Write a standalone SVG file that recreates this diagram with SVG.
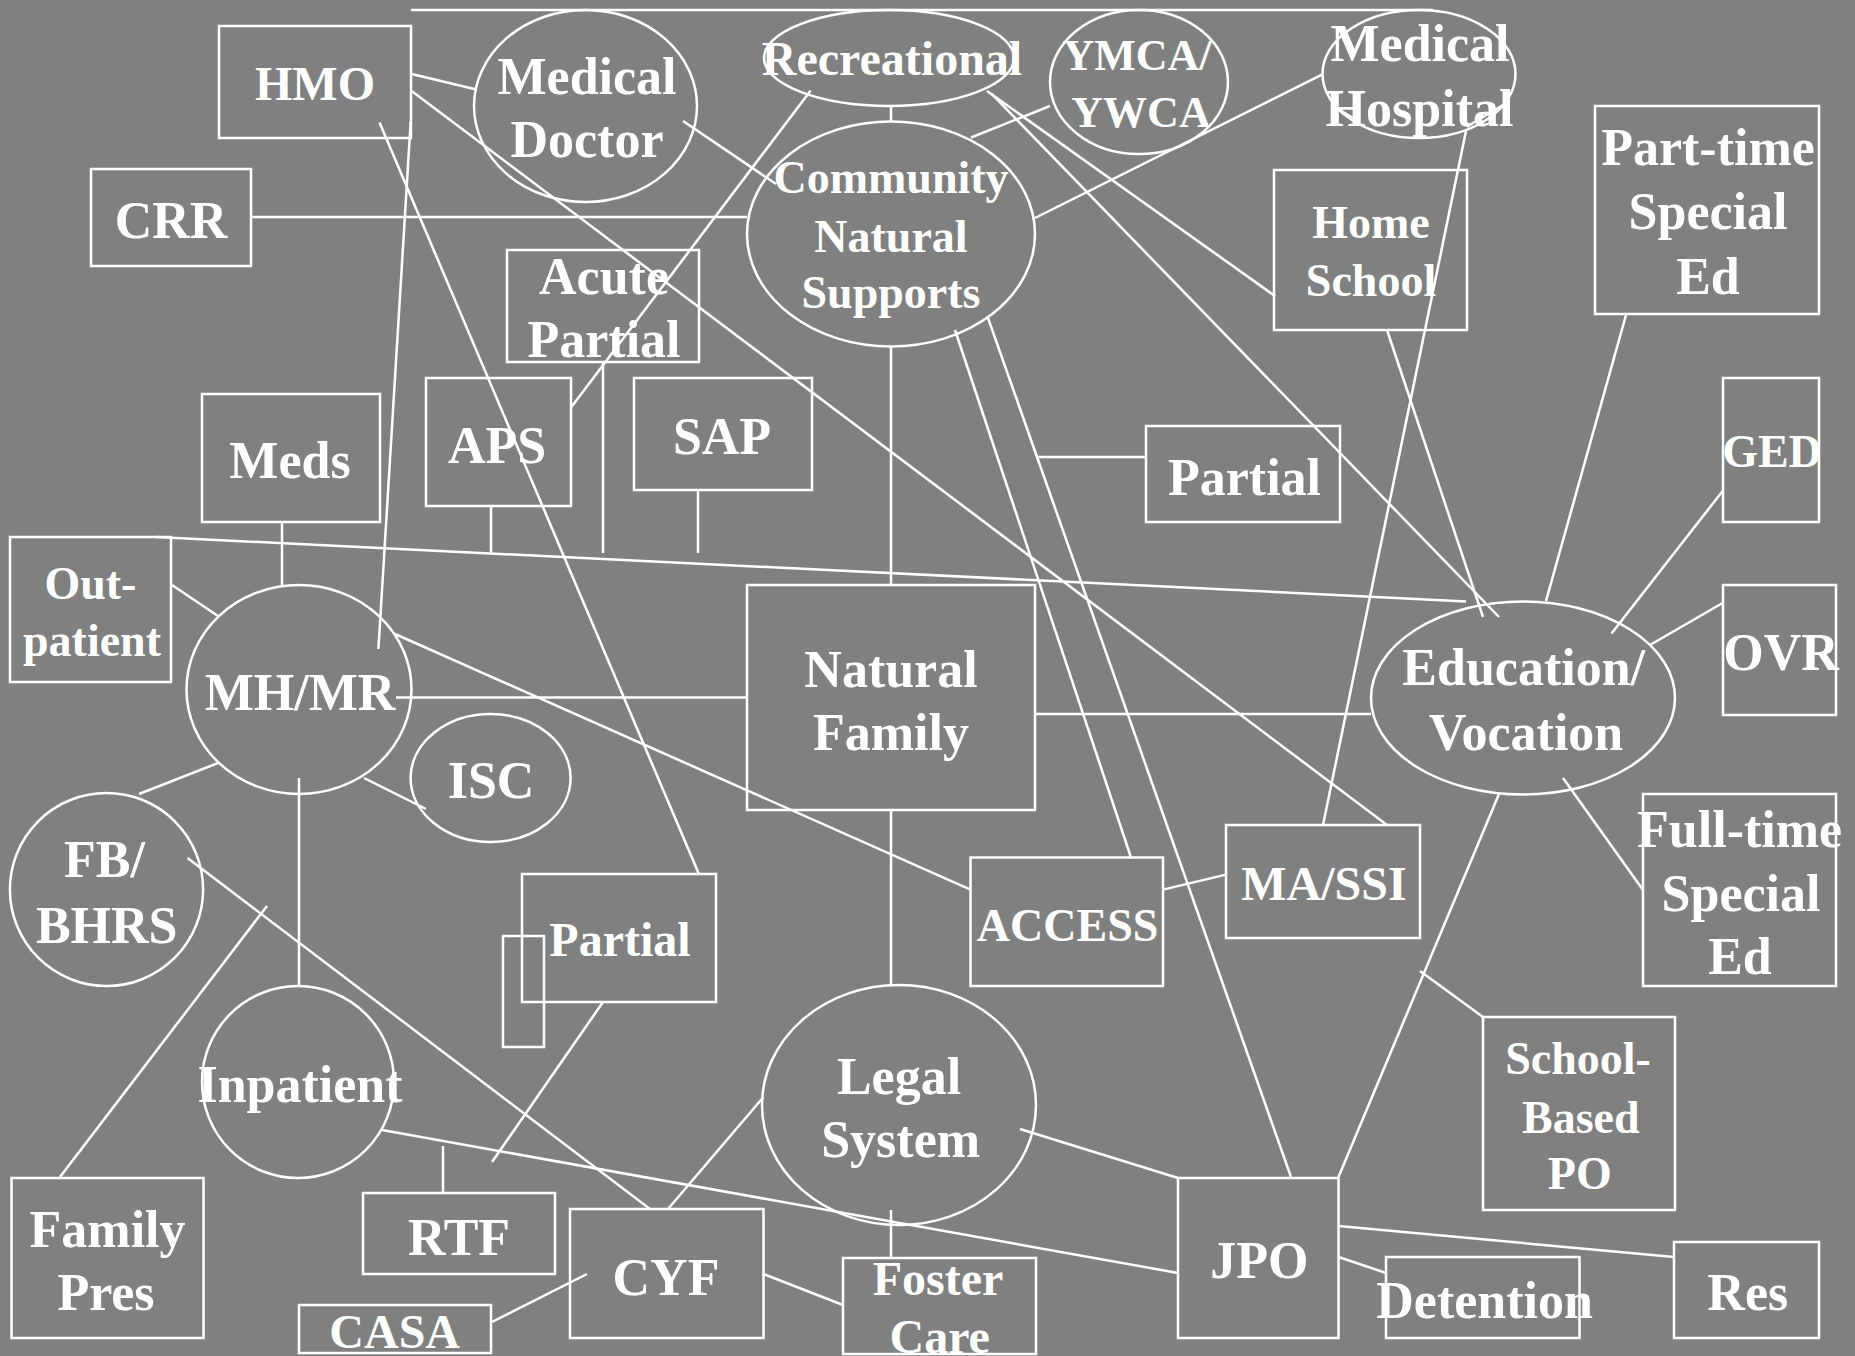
<svg xmlns="http://www.w3.org/2000/svg" width="1855" height="1356" viewBox="0 0 1855 1356">
  <style>
    .bg { fill: #808080; }
    .n rect, .n ellipse { fill: none; stroke: #ffffff; stroke-width: 2.5; }
    .n text { font-family: "Liberation Serif", "Times New Roman", serif; font-weight: bold; fill: #ffffff; text-anchor: middle; }
    .s44 { font-size: 44px; }
    .s46 { font-size: 46px; }
    .s48 { font-size: 48px; }
    .s52 { font-size: 52px; }
    #connectors line { stroke: #ffffff; stroke-width: 2.5; }
  </style>
  <rect class="bg" x="0" y="0" width="1855" height="1356"/>

  <g id="connectors">
    <line x1="411" y1="10" x2="1433" y2="10"/>
    <line x1="411.6" y1="74" x2="475.4" y2="89.3"/>
    <line x1="411.6" y1="91" x2="1387" y2="825"/>
    <line x1="379.5" y1="122.5" x2="698.7" y2="873.6"/>
    <line x1="410.7" y1="121.4" x2="378.4" y2="649"/>
    <line x1="251" y1="217" x2="747" y2="217"/>
    <line x1="683" y1="121" x2="776" y2="184"/>
    <line x1="810.7" y1="90.4" x2="571.4" y2="407"/>
    <line x1="891" y1="106" x2="891" y2="121"/>
    <line x1="987" y1="91" x2="1275" y2="296"/>
    <line x1="991.5" y1="93.6" x2="1499" y2="617"/>
    <line x1="1050" y1="106" x2="971" y2="137.5"/>
    <line x1="1035" y1="218" x2="1322.5" y2="74.3"/>
    <line x1="1466" y1="131" x2="1323" y2="825"/>
    <line x1="1466.7" y1="126.7" x2="1503" y2="105"/>
    <line x1="1335" y1="107" x2="1353" y2="118"/>
    <line x1="1036" y1="457" x2="1146" y2="457"/>
    <line x1="955" y1="330" x2="1131" y2="857.5"/>
    <line x1="988" y1="318" x2="1291" y2="1177"/>
    <line x1="891" y1="346" x2="891" y2="585"/>
    <line x1="698" y1="490" x2="698" y2="553"/>
    <line x1="491" y1="506" x2="491" y2="553"/>
    <line x1="603" y1="362" x2="603" y2="553"/>
    <line x1="282" y1="522" x2="282" y2="585"/>
    <line x1="156" y1="537" x2="1466" y2="601.4"/>
    <line x1="172" y1="585" x2="218" y2="616"/>
    <line x1="396" y1="697.5" x2="747" y2="697.5"/>
    <line x1="395" y1="634" x2="970.5" y2="889.6"/>
    <line x1="364" y1="778" x2="426" y2="809"/>
    <line x1="218" y1="763" x2="139" y2="794"/>
    <line x1="299" y1="778" x2="299" y2="986"/>
    <line x1="187.5" y1="858" x2="650" y2="1209"/>
    <line x1="60" y1="1177" x2="267" y2="906"/>
    <line x1="603" y1="1002" x2="492" y2="1162"/>
    <line x1="443" y1="1146" x2="443" y2="1193"/>
    <line x1="382" y1="1130" x2="1178" y2="1273"/>
    <line x1="668" y1="1209" x2="763.5" y2="1097"/>
    <line x1="492" y1="1322" x2="587" y2="1274"/>
    <line x1="763.5" y1="1274" x2="843" y2="1305"/>
    <line x1="891" y1="1210" x2="891" y2="1257"/>
    <line x1="1020" y1="1129" x2="1178" y2="1178"/>
    <line x1="1338.5" y1="1226" x2="1674" y2="1257"/>
    <line x1="1338.5" y1="1257" x2="1386" y2="1273"/>
    <line x1="1338.5" y1="1177" x2="1499" y2="794"/>
    <line x1="1483" y1="1017" x2="1420" y2="971"/>
    <line x1="1563" y1="778" x2="1643" y2="890"/>
    <line x1="1650" y1="645" x2="1722.6" y2="603"/>
    <line x1="1611.5" y1="633.6" x2="1722.6" y2="491"/>
    <line x1="1546" y1="601" x2="1626" y2="315"/>
    <line x1="1387" y1="330" x2="1483" y2="617"/>
    <line x1="1035" y1="714" x2="1371" y2="714"/>
    <line x1="891" y1="810" x2="891" y2="985"/>
    <line x1="1163" y1="889.6" x2="1226" y2="874.6"/>
  </g>

  <g id="hmo" class="n">
    <rect x="219" y="26" width="192" height="112"/>
    <text class="s48" x="315" y="100">HMO</text>
  </g>
  <g id="medical-doctor" class="n">
    <ellipse cx="585.5" cy="106" rx="111.5" ry="96"/>
    <text class="s52" x="587" y="93.6">Medical</text>
    <text class="s52" x="587" y="157">Doctor</text>
  </g>
  <g id="crr" class="n">
    <rect x="91" y="169" width="160" height="97"/>
    <text class="s52" x="171" y="237.5">CRR</text>
  </g>
  <g id="acute-partial" class="n">
    <rect x="507" y="250" width="192" height="112"/>
    <text class="s52" x="604" y="293.6">Acute</text>
    <text class="s52" x="604" y="357">Partial</text>
  </g>
  <g id="meds" class="n">
    <rect x="202" y="394" width="178" height="128"/>
    <text class="s52" x="290" y="478">Meds</text>
  </g>
  <g id="aps" class="n">
    <rect x="426" y="378" width="145" height="128"/>
    <text class="s52" x="497" y="462.5">APS</text>
  </g>
  <g id="sap" class="n">
    <rect x="634" y="378" width="178" height="112"/>
    <text class="s52" x="722" y="454">SAP</text>
  </g>
  <g id="community-natural-supports" class="n">
    <ellipse cx="891" cy="234" rx="144" ry="112.5"/>
    <text class="s46" x="891" y="193">Community</text>
    <text class="s46" x="891" y="252">Natural</text>
    <text class="s46" x="891" y="308">Supports</text>
  </g>
  <g id="recreational" class="n">
    <ellipse cx="889" cy="58" rx="125" ry="48"/>
    <text class="s48" x="892" y="75">Recreational</text>
  </g>
  <g id="ymca-ywca" class="n">
    <ellipse cx="1139" cy="82" rx="89" ry="72"/>
    <text class="s44" x="1137" y="69.6">YMCA/</text>
    <text class="s44" x="1141" y="126.8">YWCA</text>
  </g>
  <g id="medical-hospital" class="n">
    <ellipse cx="1419" cy="74" rx="96.5" ry="64"/>
    <text class="s52" x="1420" y="61.4">Medical</text>
    <text class="s52" x="1419.5" y="125.7">Hospital</text>
  </g>
  <g id="home-school" class="n">
    <rect x="1274" y="170" width="193" height="160"/>
    <text class="s46" x="1371" y="237.5">Home</text>
    <text class="s46" x="1371" y="296.4">School</text>
  </g>
  <g id="part-time-special-ed" class="n">
    <rect x="1595" y="106" width="224" height="208"/>
    <text class="s52" x="1708" y="165">Part-time</text>
    <text class="s52" x="1708" y="228.6">Special</text>
    <text class="s52" x="1708" y="293.6">Ed</text>
  </g>
  <g id="ged" class="n">
    <rect x="1723" y="378" width="96" height="144"/>
    <text class="s46" x="1772" y="467">GED</text>
  </g>
  <g id="partial-upper" class="n">
    <rect x="1146" y="426" width="194" height="96"/>
    <text class="s52" x="1244.5" y="494.6">Partial</text>
  </g>
  <g id="outpatient" class="n">
    <rect x="10" y="537" width="161" height="145"/>
    <text class="s46" x="90.4" y="599">Out-</text>
    <text class="s46" x="92" y="655.7">patient</text>
  </g>
  <g id="mh-mr" class="n">
    <ellipse cx="299" cy="689.5" rx="112.5" ry="104.5"/>
    <text class="s52" x="300" y="710">MH/MR</text>
  </g>
  <g id="isc" class="n">
    <ellipse cx="490.6" cy="778" rx="80" ry="64"/>
    <text class="s52" x="491" y="798">ISC</text>
  </g>
  <g id="fb-bhrs" class="n">
    <ellipse cx="106.5" cy="889.5" rx="96.6" ry="96.5"/>
    <text class="s52" x="104.5" y="877">FB/</text>
    <text class="s52" x="106.7" y="942.5">BHRS</text>
  </g>
  <g id="natural-family" class="n">
    <rect x="747" y="585" width="288" height="225"/>
    <text class="s52" x="891" y="687">Natural</text>
    <text class="s52" x="891" y="750">Family</text>
  </g>
  <g id="education-vocation" class="n">
    <ellipse cx="1523" cy="698" rx="152" ry="96.5"/>
    <text class="s52" x="1523.7" y="685">Education/</text>
    <text class="s52" x="1526" y="749.6">Vocation</text>
  </g>
  <g id="ovr" class="n">
    <rect x="1723" y="585" width="113" height="130"/>
    <text class="s52" x="1781" y="670">OVR</text>
  </g>
  <g id="partial-lower" class="n">
    <rect x="522" y="874" width="194" height="128"/>
    <rect x="503" y="936" width="41" height="111"/>
    <text class="s48" x="620" y="956.4">Partial</text>
  </g>
  <g id="access" class="n">
    <rect x="970.5" y="857.5" width="192.5" height="128.5"/>
    <text class="s46" x="1067.6" y="940.7">ACCESS</text>
  </g>
  <g id="ma-ssi" class="n">
    <rect x="1226" y="825" width="194" height="113"/>
    <text class="s48" x="1324" y="900">MA/SSI</text>
  </g>
  <g id="full-time-special-ed" class="n">
    <rect x="1643" y="794" width="193" height="192"/>
    <text class="s52" x="1739.6" y="847">Full-time</text>
    <text class="s52" x="1741" y="911">Special</text>
    <text class="s52" x="1740" y="973.6">Ed</text>
  </g>
  <g id="inpatient" class="n">
    <ellipse cx="298" cy="1082" rx="96" ry="96"/>
    <text class="s52" x="300" y="1101.7">Inpatient</text>
  </g>
  <g id="family-pres" class="n">
    <rect x="11.5" y="1178" width="192" height="160"/>
    <text class="s52" x="107.6" y="1246.7">Family</text>
    <text class="s52" x="106" y="1310">Pres</text>
  </g>
  <g id="rtf" class="n">
    <rect x="363" y="1193" width="192" height="81"/>
    <text class="s52" x="459" y="1255">RTF</text>
  </g>
  <g id="casa" class="n">
    <rect x="299" y="1305" width="192" height="48"/>
    <text class="s48" x="394.7" y="1348">CASA</text>
  </g>
  <g id="cyf" class="n">
    <rect x="570" y="1209" width="193.5" height="129"/>
    <text class="s52" x="666" y="1295">CYF</text>
  </g>
  <g id="legal-system" class="n">
    <ellipse cx="899" cy="1105" rx="137" ry="120"/>
    <text class="s52" x="899" y="1094">Legal</text>
    <text class="s52" x="900.6" y="1157">System</text>
  </g>
  <g id="foster-care" class="n">
    <rect x="843" y="1258" width="193" height="96"/>
    <text class="s48" x="938" y="1295">Foster</text>
    <text class="s48" x="939.7" y="1353">Care</text>
  </g>
  <g id="jpo" class="n">
    <rect x="1178" y="1178" width="160.5" height="160"/>
    <text class="s52" x="1259.3" y="1278">JPO</text>
  </g>
  <g id="detention" class="n">
    <rect x="1386" y="1257" width="193.5" height="81"/>
    <text class="s52" x="1484.6" y="1318">Detention</text>
  </g>
  <g id="res" class="n">
    <rect x="1674" y="1242" width="145" height="96"/>
    <text class="s52" x="1747.8" y="1310">Res</text>
  </g>
  <g id="school-based-po" class="n">
    <rect x="1483" y="1017" width="192" height="193"/>
    <text class="s46" x="1578" y="1074">School-</text>
    <text class="s46" x="1580.8" y="1133">Based</text>
    <text class="s46" x="1579.8" y="1189">PO</text>
  </g>
</svg>
